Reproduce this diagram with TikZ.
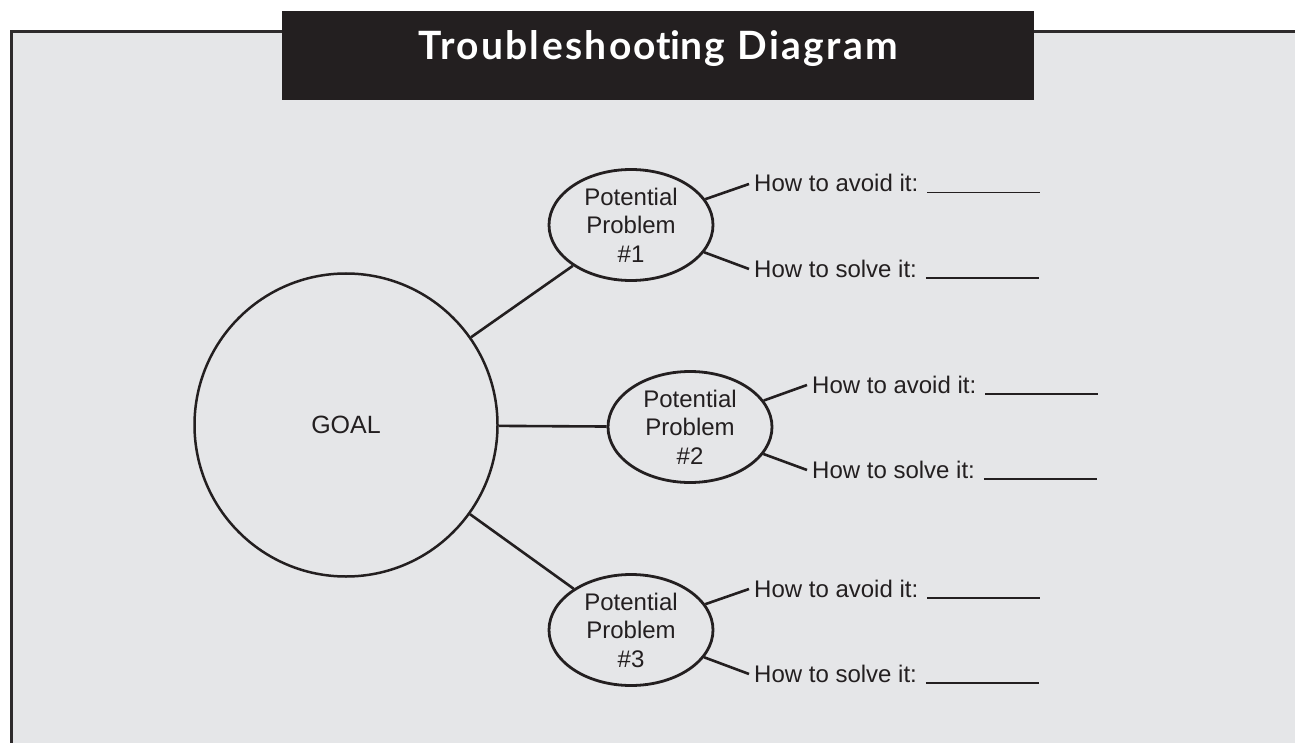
\documentclass[tikz,border=0pt]{standalone}
\usepackage{fontspec}
\setmainfont{Liberation Sans}
\newfontfamily\titlefont[LetterSpace=6, Ligatures={NoCommon,NoRare,NoContextual}]{Lato}
\usetikzlibrary{shapes.geometric}
\definecolor{ink}{HTML}{231F20}
\definecolor{bg}{HTML}{E5E6E8}
\definecolor{framecol}{HTML}{2E2B2C}
\begin{document}
\begin{tikzpicture}[x=1pt,y=-1pt,
  conn/.style={draw=ink, line width=2.6pt},
  prob/.style={ellipse, draw=ink, line width=2.8pt, minimum width=164pt, minimum height=111pt, inner sep=0pt, align=center, text=ink, font=\fontsize{24}{28.5}\selectfont},
  lab/.style={anchor=base west, inner xsep=5pt, inner ysep=0pt, text height=17pt, text depth=1pt, text=ink, font=\fontsize{24}{28}\selectfont},
  blank/.style={}]
\useasboundingbox (0,0) rectangle (1295,743);
% frame
\fill[bg] (11.5,31.5) rectangle (1295,743);
\draw[framecol, line width=3pt] (11.5,743) -- (11.5,31.5) -- (1295,31.5);
% title
\node[fill=ink, minimum width=752pt, minimum height=89.5pt, inner sep=0pt] (tbox) at (658,55.75) {};
\node[anchor=base, inner sep=0pt, text=white, font=\titlefont\bfseries\fontsize{39}{40}\selectfont] (title) at (658,60) {Troubleshoo\mbox{t}\mbox{i}ng Diagram};
% goal
\node[circle, draw=ink, line width=2.5pt, minimum size=303pt, inner sep=0pt, text=ink, font=\fontsize{25}{28}\selectfont] (goal) at (346,425) {GOAL};
% problems
\node[prob] (p1) at (631,225) {Potential\\Problem\\\#1};
\node[prob] (p2) at (690,427) {Potential\\Problem\\\#2};
\node[prob] (p3) at (631,630) {Potential\\Problem\\\#3};
% labels
\newcommand{\blankline}{\rule[-1.5pt]{113pt}{1.3pt}}
\node[lab] (a1) at (749,192) {How to avoid it: \blankline};
\node[lab] (s1) at (749,277) {How to solve it: \blankline};
\node[lab] (a2) at (807,393) {How to avoid it: \blankline};
\node[lab] (s2) at (807,478) {How to solve it: \blankline};
\node[lab] (a3) at (749,597) {How to avoid it: \blankline};
\node[lab] (s3) at (749,682) {How to solve it: \blankline};
% connectors
\draw[conn] (goal) -- (p1);
\draw[conn] (goal) -- (p2);
\draw[conn] (goal) -- (p3);
\draw[conn] (p1) -- (a1.west);
\draw[conn] (p1) -- (s1.west);
\draw[conn] (p2) -- (a2.west);
\draw[conn] (p2) -- (s2.west);
\draw[conn] (p3) -- (a3.west);
\draw[conn] (p3) -- (s3.west);
\end{tikzpicture}
\end{document}
